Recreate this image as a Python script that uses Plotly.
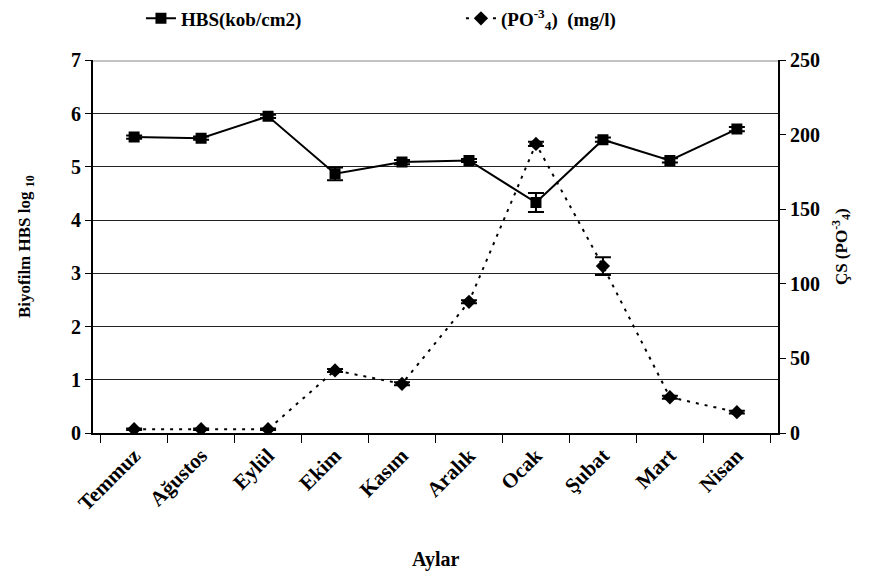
import plotly.graph_objects as go

months = ["Temmuz", "Ağustos", "Eylül", "Ekim", "Kasım", "Aralık", "Ocak", "Şubat", "Mart", "Nisan"]
hbs = [5.56, 5.54, 5.95, 4.87, 5.09, 5.12, 4.33, 5.51, 5.12, 5.71]
hbs_err = [0.03, 0.03, 0.03, 0.12, 0.04, 0.03, 0.18, 0.04, 0.04, 0.04]
po4 = [2.5, 2.5, 2.5, 42, 33, 88, 194, 112, 24, 14]
po4_err = [0.5, 0.5, 0.5, 1, 1, 1, 1.5, 6, 1, 1]

FONT = "Times New Roman"

fig = go.Figure()
fig.add_trace(go.Scatter(
    x=months, y=hbs, name="<b>HBS(kob/cm2)</b>", mode="lines+markers",
    line=dict(color="black", width=2),
    marker=dict(symbol="square", size=11, color="black"),
    error_y=dict(type="data", array=hbs_err, color="black", thickness=2, width=8),
    yaxis="y"))
fig.add_trace(go.Scatter(
    x=months, y=po4, name="<b>(PO<sup>-3</sup><sub>4</sub>)  (mg/l)</b>", mode="lines+markers",
    line=dict(color="black", width=2, dash="3px,6px"),
    marker=dict(symbol="diamond", size=11, color="black"),
    error_y=dict(type="data", array=po4_err, color="black", thickness=2, width=8),
    yaxis="y2"))

fig.update_layout(
    width=875, height=576,
    margin=dict(l=93, r=97, t=58, b=143),
    paper_bgcolor="white", plot_bgcolor="white",
    font=dict(family=FONT, size=16, color="black"),
    showlegend=True,
    legend=dict(orientation="h", x=0.07, y=0.968, xanchor="left", yanchor="middle",
                yref="container",
                entrywidth=275, entrywidthmode="pixels", tracegroupgap=0,
                font=dict(family=FONT, size=19, color="black"), bgcolor="rgba(0,0,0,0)"),
    xaxis=dict(
        type="category", categoryorder="array", categoryarray=months,
        tickson="boundaries", ticks="outside", ticklen=8, tickcolor="black", tickwidth=1,
        showline=True, linecolor="black", linewidth=2, mirror=False,
        showgrid=False, tickangle=-45,
        tickfont=dict(family=FONT, size=21, color="black", weight="bold"),
    ),
    yaxis=dict(
        range=[0, 7], dtick=1, ticks="outside", ticklen=6, tickcolor="black",
        showline=True, linecolor="black", linewidth=2,
        showgrid=True, gridcolor="#222", gridwidth=1, zeroline=False,
        tickfont=dict(family=FONT, size=20, color="black", weight="bold"),
        title=dict(text="<b>Biyofilm HBS log <sub>10</sub></b>", font=dict(family=FONT, size=17), standoff=36),
    ),
    yaxis2=dict(
        range=[0, 250], dtick=50, overlaying="y", side="right",
        ticks="outside", ticklen=6, tickcolor="black",
        showline=True, linecolor="black", linewidth=2,
        showgrid=False, zeroline=False,
        tickfont=dict(family=FONT, size=20, color="black", weight="bold"),
        title=dict(text="<b>ÇS (PO<sup>-3</sup><sub>4</sub>)</b>", font=dict(family=FONT, size=17), standoff=16),
    ),
)
fig.add_annotation(text="<b>Aylar</b>", xref="paper", yref="paper", x=0.5, y=-0.34,
                   xanchor="center", yanchor="middle", showarrow=False,
                   font=dict(family=FONT, size=20, color="black"))
fig.add_shape(type="line", xref="paper", yref="y", x0=0, x1=1, y0=7, y1=7,
              line=dict(color="#888", width=2))

fig.write_html("out.html")
